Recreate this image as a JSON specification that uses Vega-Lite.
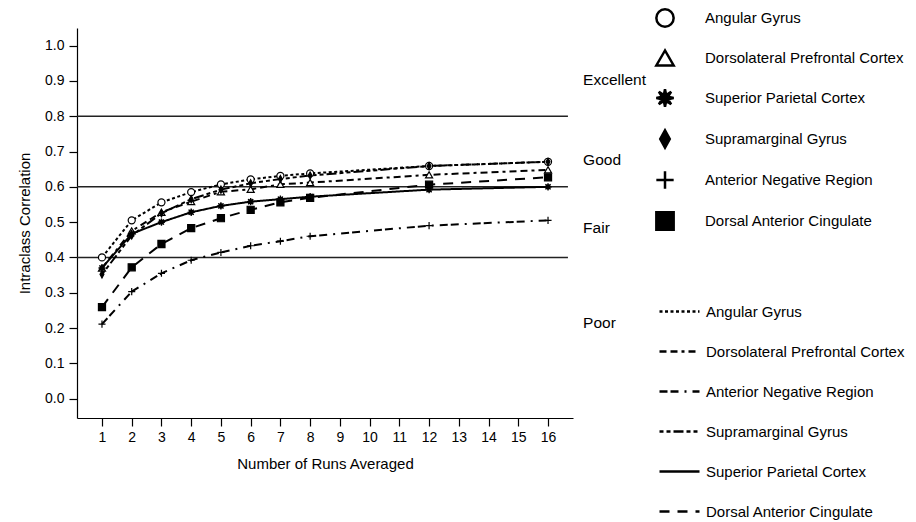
{
  "$schema": "https://vega.github.io/schema/vega-lite/v6.json",
  "width": 496,
  "height": 390,
  "autosize": {"type": "none"},
  "padding": {"left": 77, "top": 28, "right": 343, "bottom": 104},
  "background": "white",
  "config": {
    "font": "Liberation Sans",
    "view": {"stroke": null},
    "axis": {
      "grid": false,
      "domainColor": "black",
      "domainWidth": 1.2,
      "tickColor": "black",
      "tickWidth": 1.2,
      "tickSize": 8,
      "labelColor": "black",
      "labelFontSize": 14,
      "labelFont": "Liberation Sans",
      "titleFont": "Liberation Sans",
      "titleColor": "black",
      "titleFontSize": 15,
      "titleFontWeight": "normal",
      "labelFlush": false,
      "labelOverlap": false
    },
    "legend": {"labelFont": "Liberation Sans", "labelColor": "black", "labelLimit": 0}
  },
  "datasets": {
    "icc": [
      {"region": "Angular Gyrus", "runs": 1, "icc": 0.400},
      {"region": "Angular Gyrus", "runs": 2, "icc": 0.505},
      {"region": "Angular Gyrus", "runs": 3, "icc": 0.556},
      {"region": "Angular Gyrus", "runs": 4, "icc": 0.585},
      {"region": "Angular Gyrus", "runs": 5, "icc": 0.607},
      {"region": "Angular Gyrus", "runs": 6, "icc": 0.621},
      {"region": "Angular Gyrus", "runs": 7, "icc": 0.631},
      {"region": "Angular Gyrus", "runs": 8, "icc": 0.638},
      {"region": "Angular Gyrus", "runs": 12, "icc": 0.659},
      {"region": "Angular Gyrus", "runs": 16, "icc": 0.671},
      {"region": "Dorsolateral Prefrontal Cortex", "runs": 1, "icc": 0.370},
      {"region": "Dorsolateral Prefrontal Cortex", "runs": 2, "icc": 0.475},
      {"region": "Dorsolateral Prefrontal Cortex", "runs": 3, "icc": 0.528},
      {"region": "Dorsolateral Prefrontal Cortex", "runs": 4, "icc": 0.558},
      {"region": "Dorsolateral Prefrontal Cortex", "runs": 5, "icc": 0.586},
      {"region": "Dorsolateral Prefrontal Cortex", "runs": 6, "icc": 0.593},
      {"region": "Dorsolateral Prefrontal Cortex", "runs": 7, "icc": 0.607},
      {"region": "Dorsolateral Prefrontal Cortex", "runs": 8, "icc": 0.612},
      {"region": "Dorsolateral Prefrontal Cortex", "runs": 12, "icc": 0.634},
      {"region": "Dorsolateral Prefrontal Cortex", "runs": 16, "icc": 0.648},
      {"region": "Superior Parietal Cortex", "runs": 1, "icc": 0.370},
      {"region": "Superior Parietal Cortex", "runs": 2, "icc": 0.467},
      {"region": "Superior Parietal Cortex", "runs": 3, "icc": 0.500},
      {"region": "Superior Parietal Cortex", "runs": 4, "icc": 0.528},
      {"region": "Superior Parietal Cortex", "runs": 5, "icc": 0.546},
      {"region": "Superior Parietal Cortex", "runs": 6, "icc": 0.558},
      {"region": "Superior Parietal Cortex", "runs": 7, "icc": 0.565},
      {"region": "Superior Parietal Cortex", "runs": 8, "icc": 0.572},
      {"region": "Superior Parietal Cortex", "runs": 12, "icc": 0.592},
      {"region": "Superior Parietal Cortex", "runs": 16, "icc": 0.600},
      {"region": "Supramarginal Gyrus", "runs": 1, "icc": 0.352},
      {"region": "Supramarginal Gyrus", "runs": 2, "icc": 0.462},
      {"region": "Supramarginal Gyrus", "runs": 3, "icc": 0.525},
      {"region": "Supramarginal Gyrus", "runs": 4, "icc": 0.565},
      {"region": "Supramarginal Gyrus", "runs": 5, "icc": 0.592},
      {"region": "Supramarginal Gyrus", "runs": 6, "icc": 0.610},
      {"region": "Supramarginal Gyrus", "runs": 7, "icc": 0.622},
      {"region": "Supramarginal Gyrus", "runs": 8, "icc": 0.632},
      {"region": "Supramarginal Gyrus", "runs": 12, "icc": 0.659},
      {"region": "Supramarginal Gyrus", "runs": 16, "icc": 0.671},
      {"region": "Anterior Negative Region", "runs": 1, "icc": 0.211},
      {"region": "Anterior Negative Region", "runs": 2, "icc": 0.303},
      {"region": "Anterior Negative Region", "runs": 3, "icc": 0.355},
      {"region": "Anterior Negative Region", "runs": 4, "icc": 0.392},
      {"region": "Anterior Negative Region", "runs": 5, "icc": 0.414},
      {"region": "Anterior Negative Region", "runs": 6, "icc": 0.433},
      {"region": "Anterior Negative Region", "runs": 7, "icc": 0.446},
      {"region": "Anterior Negative Region", "runs": 8, "icc": 0.460},
      {"region": "Anterior Negative Region", "runs": 12, "icc": 0.490},
      {"region": "Anterior Negative Region", "runs": 16, "icc": 0.505},
      {"region": "Dorsal Anterior Cingulate", "runs": 1, "icc": 0.259},
      {"region": "Dorsal Anterior Cingulate", "runs": 2, "icc": 0.372},
      {"region": "Dorsal Anterior Cingulate", "runs": 3, "icc": 0.438},
      {"region": "Dorsal Anterior Cingulate", "runs": 4, "icc": 0.483},
      {"region": "Dorsal Anterior Cingulate", "runs": 5, "icc": 0.511},
      {"region": "Dorsal Anterior Cingulate", "runs": 6, "icc": 0.535},
      {"region": "Dorsal Anterior Cingulate", "runs": 7, "icc": 0.556},
      {"region": "Dorsal Anterior Cingulate", "runs": 8, "icc": 0.569},
      {"region": "Dorsal Anterior Cingulate", "runs": 12, "icc": 0.606},
      {"region": "Dorsal Anterior Cingulate", "runs": 16, "icc": 0.627}
    ],
    "refs": [
      {"icc": 0.8, "runs": 0.16, "runs2": 16.67},
      {"icc": 0.6, "runs": 0.16, "runs2": 16.67},
      {"icc": 0.4, "runs": 0.16, "runs2": 16.67}
    ],
    "bands": [
      {"label": "Excellent", "runs": 17.18, "icc": 0.903},
      {"label": "Good", "runs": 17.18, "icc": 0.676},
      {"label": "Fair", "runs": 17.18, "icc": 0.484},
      {"label": "Poor", "runs": 17.18, "icc": 0.215}
    ]
  },
  "encoding": {
    "x": {"field": "runs", "type": "quantitative",
          "scale": {"domain": [0.16, 16.84], "nice": false, "zero": false},
          "axis": {"values": [1,2,3,4,5,6,7,8,9,10,11,12,13,14,15,16], "title": "Number of Runs Averaged", "labelPadding": 4, "titlePadding": 12}},
    "y": {"field": "icc", "type": "quantitative",
          "scale": {"domain": [-0.055, 1.05], "nice": false, "zero": false},
          "axis": {"values": [0,0.1,0.2,0.3,0.4,0.5,0.6,0.7,0.8,0.9,1.0], "format": ".1f", "title": "Intraclass Correlation", "labelPadding": 5, "titlePadding": 12}}
  },
  "layer": [
    {
      "data": {"name": "refs"},
      "mark": {"type": "rule", "color": "#222", "strokeWidth": 1.5},
      "encoding": {
        "x2": {"field": "runs2"}
      }
    },
    {
      "data": {"name": "icc"},
      "mark": {"type": "line", "color": "black", "strokeWidth": 2},
      "encoding": {
        "strokeDash": {
          "field": "region", "type": "nominal",
          "scale": {
            "domain": ["Angular Gyrus", "Dorsolateral Prefrontal Cortex", "Anterior Negative Region", "Supramarginal Gyrus", "Superior Parietal Cortex", "Dorsal Anterior Cingulate"],
            "range": [[3, 2.5], [7, 4, 7, 4, 3, 4], [8, 3, 8, 6, 2, 6], [4, 3, 4, 3, 10, 3], [1, 0], [10, 8]]
          },
          "legend": {
            "orient": "none", "legendX": 581, "legendY": 262, "title": null,
            "symbolType": "stroke", "symbolSize": 1600, "symbolStrokeWidth": 2.5, "symbolStrokeColor": "black",
            "labelFontSize": 15, "labelOffset": 5, "rowPadding": 10, "padding": 0
          }
        }
      }
    },
    {
      "data": {"name": "icc"},
      "mark": {"type": "point", "strokeWidth": 1.2, "size": 50, "opacity": 1},
      "encoding": {
        "shape": {
          "field": "region", "type": "nominal",
          "scale": {
            "domain": ["Angular Gyrus", "Dorsolateral Prefrontal Cortex", "Superior Parietal Cortex", "Supramarginal Gyrus", "Anterior Negative Region", "Dorsal Anterior Cingulate"],
            "range": [
              "circle",
              "triangle-up",
              "M1,0L0.33,0.137L0.707,0.707L0.137,0.33L0,1L-0.137,0.33L-0.707,0.707L-0.33,0.137L-1,0L-0.33,-0.137L-0.707,-0.707L-0.137,-0.33L0,-1L0.137,-0.33L0.707,-0.707L0.33,-0.137Z",
              "M0,-1L0.55,0L0,1L-0.55,0Z",
              "M-1,0H1M0,-1V1",
              "square"
            ]
          },
          "legend": {
            "orient": "none", "legendX": 578, "legendY": -20, "title": null,
            "symbolSize": 300, "symbolStrokeWidth": 2.5,
            "labelFontSize": 15, "labelOffset": 30, "rowPadding": 13, "padding": 0
          }
        },
        "fill": {
          "field": "region", "type": "nominal",
          "scale": {
            "domain": ["Angular Gyrus", "Dorsolateral Prefrontal Cortex", "Superior Parietal Cortex", "Supramarginal Gyrus", "Anterior Negative Region", "Dorsal Anterior Cingulate"],
            "range": ["white", "white", "black", "black", "black", "black"]
          },
          "legend": {
            "orient": "none", "legendX": 578, "legendY": -20, "title": null,
            "symbolSize": 300, "symbolStrokeWidth": 2.5,
            "labelFontSize": 15, "labelOffset": 30, "rowPadding": 13, "padding": 0
          }
        },
        "stroke": {
          "field": "region", "type": "nominal",
          "scale": {
            "domain": ["Angular Gyrus", "Dorsolateral Prefrontal Cortex", "Superior Parietal Cortex", "Supramarginal Gyrus", "Anterior Negative Region", "Dorsal Anterior Cingulate"],
            "range": ["black", "black", "black", "black", "black", "black"]
          },
          "legend": {
            "orient": "none", "legendX": 578, "legendY": -20, "title": null,
            "symbolSize": 300, "symbolStrokeWidth": 2.5,
            "labelFontSize": 15, "labelOffset": 30, "rowPadding": 13, "padding": 0
          }
        }
      }
    },
    {
      "data": {"name": "bands"},
      "mark": {"type": "text", "align": "left", "baseline": "middle", "fontSize": 15.5, "color": "black"},
      "encoding": {
        "text": {"field": "label"}
      }
    }
  ]
}
